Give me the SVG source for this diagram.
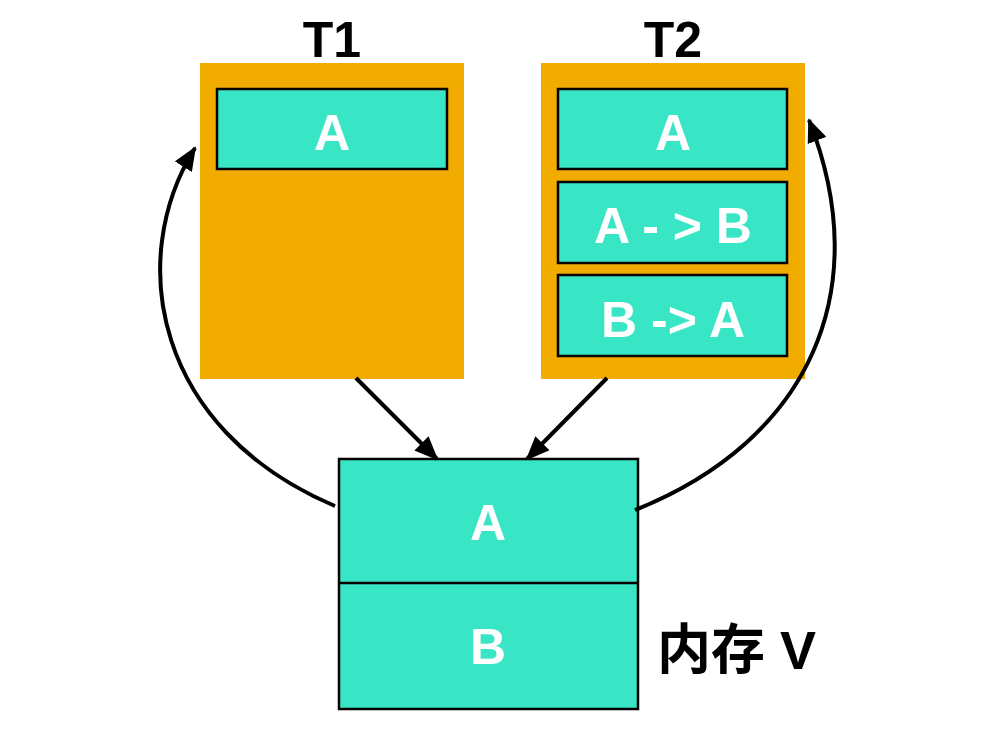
<svg xmlns="http://www.w3.org/2000/svg" width="990" height="738" viewBox="0 0 990 738">
<style>
.frame{fill:#F2AC00}
.cell{fill:#38E5C5;stroke:#000;stroke-width:2.5}
.lbl{font-family:"Liberation Sans",Arial,sans-serif;font-weight:bold;font-size:50px;fill:#fff;text-anchor:middle}
.title{font-family:"Liberation Sans",Arial,sans-serif;font-weight:bold;font-size:50px;fill:#000;text-anchor:middle}
.conn{fill:none;stroke:#000;stroke-width:4;marker-end:url(#ah)}
</style>
<defs>
<marker id="ah" viewBox="0 0 12 10" refX="11" refY="5" markerWidth="6" markerHeight="5" orient="auto">
<path d="M0,0 L12,5 L0,10 Z" fill="#000"/>
</marker>
</defs>
<rect width="990" height="738" fill="#fff"/>
<g id="T1">
<text class="title" x="332" y="57">T1</text>
<rect class="frame" x="200" y="63" width="264" height="316"/>
<rect class="cell" x="217" y="89" width="230" height="80"/>
<text class="lbl" x="332" y="150">A</text>
</g>
<g id="T2">
<text class="title" x="673" y="57">T2</text>
<rect class="frame" x="541" y="63" width="264" height="316"/>
<rect class="cell" x="558" y="89" width="229" height="80"/>
<text class="lbl" x="673" y="150">A</text>
<rect class="cell" x="558" y="182" width="229" height="81"/>
<text class="lbl" x="673" y="243">A - &gt; B</text>
<rect class="cell" x="558" y="275" width="229" height="81"/>
<text class="lbl" x="673" y="337">B -&gt; A</text>
</g>
<g id="memV">
<rect class="cell" x="339" y="459" width="299" height="250"/>
<line x1="339" y1="583" x2="638" y2="583" stroke="#000" stroke-width="2.5"/>
<text class="lbl" x="488" y="540">A</text>
<text class="lbl" x="488" y="664">B</text>
<text x="657" y="669" font-family="'Liberation Sans','Noto Sans CJK SC',sans-serif" font-weight="bold" font-size="54" fill="#000">内存 V</text>
</g>
<g id="connectors">
<path class="conn" d="M356,378 L437,459"/>
<path class="conn" d="M607,378 L527,459"/>
<path class="conn" d="M335,506 C155,430 125,260 195,148"/>
<path class="conn" d="M635,510 C810,440 876,290 809,120"/>
</g>
</svg>
